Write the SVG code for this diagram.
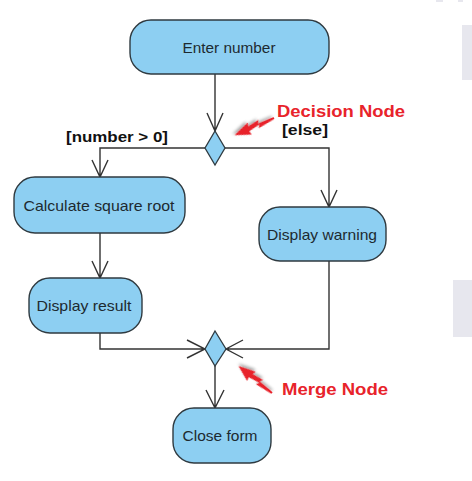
<svg xmlns="http://www.w3.org/2000/svg" width="472" height="481" viewBox="0 0 472 481">
<defs>
<style>
.node rect{fill:#8dcff2;stroke:#2f3a40;stroke-width:1.4}
.node polygon{fill:#8dcff2;stroke:#2f3a40;stroke-width:1.3}
.node text{font-family:"Liberation Sans",Arial,sans-serif;font-size:15px;fill:#1d2a30;text-anchor:middle}
.conn path{fill:none;stroke:#333;stroke-width:1.4}
.guard{font-family:"Liberation Sans",Arial,sans-serif;font-size:14px;font-weight:bold;fill:#111}
.note{font-family:"Liberation Sans",Arial,sans-serif;font-size:17px;font-weight:bold;fill:#e8232b}
.wm{fill:#e7e7ee}
</style>
<filter id="sh" x="-30%" y="-30%" width="160%" height="160%">
<feDropShadow dx="1.5" dy="2" stdDeviation="1.5" flood-color="#000" flood-opacity="0.35"/>
</filter>
<polygon id="bolt" points="0,-1 18,-3.2 16,0 28,-2.2 27,-6.2 43,0 26,6.2 27,2.6 15,4.4 17,1.2 0,1"/>
</defs>
<rect width="472" height="481" fill="#fff"/>
<g id="watermark">
<rect class="wm" x="462" y="25" width="10" height="55"/>
<rect class="wm" x="436" y="0" width="7" height="2"/>
<rect class="wm" x="458" y="0" width="5" height="2"/>
<rect class="wm" x="453" y="280" width="19" height="57"/>
</g>
<g id="connectors" class="conn">
<path d="M215,74 V131 M207,113 L215,131 L223,113"/>
<path d="M205,148 H100 V177 M92,160 L100,177 L108,160"/>
<path d="M225,148 H329 V207 M321,190 L329,207 L337,190"/>
<path d="M100,233 V278 M92,261 L100,278 L108,261"/>
<path d="M100,333 V349 H205 M187,340 L205,349 L187,358"/>
<path d="M329,261 V349 H226 M243,340 L226,349 L243,358"/>
<path d="M215,366 V408 M206,390 L215,408 L224,390"/>
</g>
<g id="enter" class="node"><rect x="130" y="20" width="199" height="54" rx="21"/><text x="229" y="52.5" textLength="93" lengthAdjust="spacingAndGlyphs">Enter number</text></g>
<g id="decision" class="node"><polygon points="215,131 225,148 215,165 205,148"/></g>
<g id="calc" class="node"><rect x="14" y="177" width="171" height="56" rx="21"/><text x="99" y="210.5" textLength="151" lengthAdjust="spacingAndGlyphs">Calculate square root</text></g>
<g id="result" class="node"><rect x="29" y="278" width="113" height="55" rx="21"/><text x="84" y="311" textLength="95" lengthAdjust="spacingAndGlyphs">Display result</text></g>
<g id="warning" class="node"><rect x="259" y="207" width="127" height="54" rx="21"/><text x="322" y="239.5" textLength="110" lengthAdjust="spacingAndGlyphs">Display warning</text></g>
<g id="merge" class="node"><polygon points="215,331 226,349 215,366 205,349"/></g>
<g id="close" class="node"><rect x="173" y="408" width="98" height="55" rx="21"/><text x="220" y="440.5" textLength="75" lengthAdjust="spacingAndGlyphs">Close form</text></g>
<g id="labels">
<text class="guard" x="66" y="142" textLength="102" lengthAdjust="spacingAndGlyphs">[number &gt; 0]</text>
<text class="guard" x="282" y="135" textLength="46" lengthAdjust="spacingAndGlyphs">[else]</text>
</g>
<g id="annotations">
<use href="#bolt" fill="#e8232b" filter="url(#sh)" transform="translate(274,118) rotate(156.4)"/>
<text class="note" x="277" y="117" textLength="128" lengthAdjust="spacingAndGlyphs">Decision Node</text>
<use href="#bolt" fill="#e8232b" filter="url(#sh)" transform="translate(272,393) rotate(218.9)"/>
<text class="note" x="282" y="395" textLength="106" lengthAdjust="spacingAndGlyphs">Merge Node</text>
</g>
</svg>
